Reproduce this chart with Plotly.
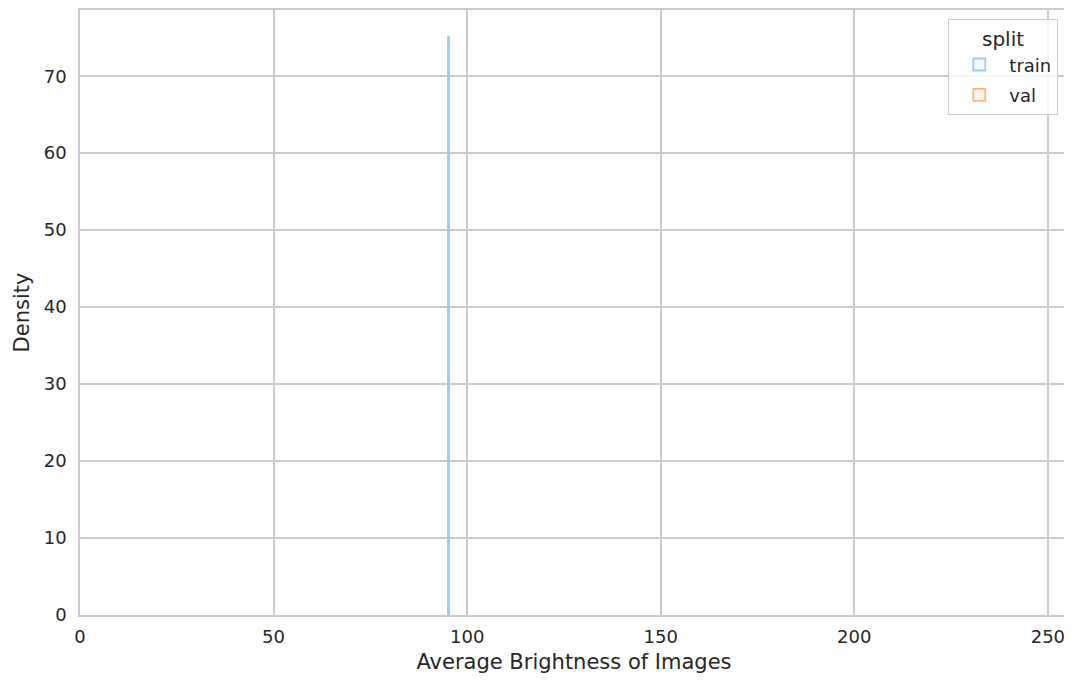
import plotly.graph_objects as go

# Histogram (step, density) data
splits = ["train", "val"]
colors = {"train": "#a1c9f4", "val": "#ffb482"}
fills = {"train": "rgba(161,201,244,0.15)", "val": "rgba(255,180,130,0.15)"}
bin_center = {"train": 95.5, "val": 95.5}
bin_width = {"train": 0.2, "val": 0.2}
density = {"train": 75.0, "val": 75.0}

x_ticks = [0, 50, 100, 150, 200, 250]
y_ticks = [0, 10, 20, 30, 40, 50, 60, 70]

fig = go.Figure()
# val drawn first (underneath); legend ranks keep train listed first
for s, rank in [("val", 2), ("train", 1)]:
    fig.add_trace(go.Bar(
        x=[bin_center[s]], y=[density[s]], width=[bin_width[s]],
        marker=dict(color=fills[s], line=dict(color=colors[s], width=1.8)),
        name=s, legendgroup=s, legendrank=rank, hoverinfo="skip",
    ))

axis_common = dict(
    showgrid=True, gridcolor="#cccccc", gridwidth=1.5,
    showline=True, linecolor="#cccccc", linewidth=1.5, mirror=True,
    zeroline=False, ticks="", tickfont=dict(size=18, color="#262626"),
)
fig.update_xaxes(range=[0, 255.2], tickvals=x_ticks, ticklabelstandoff=5,
                 title=dict(text="Average Brightness of Images", font=dict(size=21, color="#262626"), standoff=8),
                 **axis_common)
fig.update_yaxes(range=[0, 78.6], tickvals=y_ticks, ticklabelstandoff=8,
                 title=dict(text="Density", font=dict(size=21, color="#262626"), standoff=8),
                 **axis_common)

fig.update_layout(
    width=1064, height=674,
    margin=dict(l=72, r=4, t=2, b=67, autoexpand=False),
    paper_bgcolor="white", plot_bgcolor="white",
    font=dict(family="DejaVu Sans", color="#262626"),
    barmode="overlay", bargap=0,
    legend=dict(
        x=0.99, y=0.985, xanchor="right", yanchor="top",
        traceorder="grouped",
        title=dict(text="split", side="top center", font=dict(size=20)),
        font=dict(size=18), bgcolor="rgba(255,255,255,0.8)",
        bordercolor="#cccccc", borderwidth=1.2,
        itemwidth=50, tracegroupgap=4,
    ),
)

fig.write_html("out.html")
